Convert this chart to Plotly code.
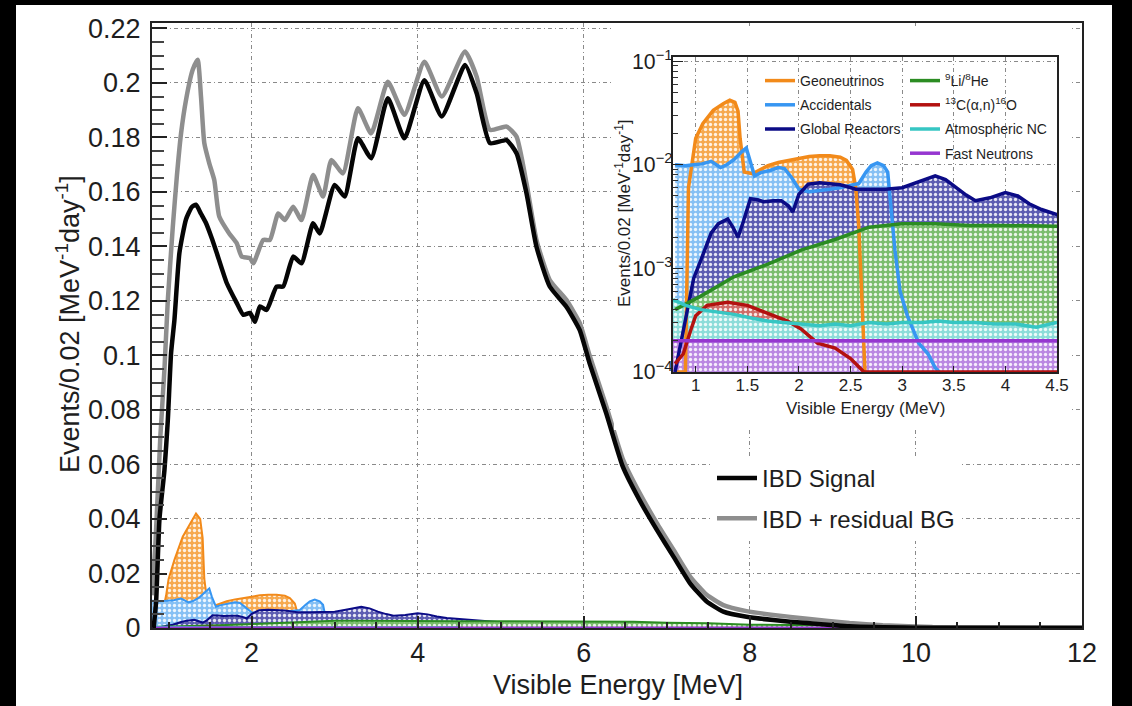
import plotly.graph_objects as go

# ---------------- IBD spectrum (events per 0.02 MeV per day) ----------------
E_SIGNAL = [0.82, 0.85, 0.89, 0.95, 0.99, 1.03, 1.07, 1.13, 1.21, 1.28, 1.33, 1.39,
            1.45, 1.52, 1.58, 1.70, 1.82, 1.90, 1.98, 2.04, 2.10, 2.18, 2.30, 2.38,
            2.50, 2.60, 2.74, 2.82, 3.00, 3.12, 3.28, 3.44, 3.64, 3.84, 4.08, 4.29,
            4.57, 4.71, 4.87, 5.07, 5.19, 5.31, 5.43, 5.59, 5.79, 5.95, 6.07, 6.27,
            6.47, 6.67, 6.88, 7.08, 7.28, 7.48, 7.68, 7.96, 8.28, 8.69, 9.20, 10.0, 12.0]
IBD_SIGNAL = [0.0, 0.010, 0.040, 0.058, 0.076, 0.101, 0.113, 0.1376, 0.150, 0.1545, 0.1553, 0.152,
              0.1486, 0.143, 0.1376, 0.1266, 0.1193, 0.1149, 0.1156, 0.1124, 0.118, 0.1167, 0.1253, 0.1253,
              0.1363, 0.1338, 0.1485, 0.1448, 0.1626, 0.1583, 0.1797, 0.1724, 0.1944, 0.1797, 0.201, 0.1877,
              0.2066, 0.1962, 0.1779, 0.179, 0.1742, 0.1595, 0.1399, 0.1253, 0.1179, 0.1094, 0.0971, 0.0788,
              0.0592, 0.047, 0.036, 0.0262, 0.0164, 0.0097, 0.0060, 0.0041, 0.0029, 0.0018, 0.0006, 0.0001, 0.0]

E_TOTAL = [0.80, 0.84, 0.90, 0.95, 0.99, 1.05, 1.10, 1.15, 1.21, 1.29, 1.35, 1.39, 1.43,
           1.49, 1.55, 1.61, 1.73, 1.82, 1.88, 1.98, 2.02, 2.14, 2.22, 2.32, 2.40, 2.50,
           2.60, 2.74, 2.86, 2.96, 3.10, 3.28, 3.44, 3.64, 3.84, 4.08, 4.29, 4.57, 4.71,
           4.87, 5.07, 5.19, 5.31, 5.43, 5.59, 5.79, 5.95, 6.07, 6.27, 6.47, 6.67, 6.88,
           7.08, 7.28, 7.48, 7.68, 7.96, 8.28, 8.69, 9.20, 9.60, 10.2, 12.0]
IBD_TOTAL = [0.012, 0.030, 0.070, 0.095, 0.120, 0.147, 0.166, 0.1815, 0.1938, 0.2048, 0.2085, 0.195, 0.1779,
             0.1705, 0.1644, 0.151, 0.1448, 0.1412, 0.1363, 0.1357, 0.1338, 0.1424, 0.1424, 0.1521, 0.1497, 0.1546,
             0.1497, 0.1662, 0.1583, 0.1717, 0.1668, 0.1907, 0.1815, 0.2004, 0.1883, 0.2078, 0.195, 0.2115, 0.2023,
             0.1828, 0.184, 0.1803, 0.1632, 0.1424, 0.1277, 0.1204, 0.112, 0.100, 0.0815, 0.062, 0.0497, 0.0385,
             0.0287, 0.0189, 0.0122, 0.0084, 0.0062, 0.0048, 0.0034, 0.0018, 0.0010, 0.0004, 0.0002]

# ---------------- residual backgrounds ----------------
E_GEO = [0.80, 0.90, 0.93, 0.97, 1.00, 1.07, 1.17, 1.27, 1.33, 1.38, 1.41, 1.43, 1.47,
         1.55, 1.62, 1.70, 1.80, 1.90, 2.00, 2.10, 2.20, 2.30, 2.40, 2.46, 2.52, 2.55,
         2.58, 2.61, 2.64]
GEONEUTRINOS = [0.0001, 0.0001, 0.006, 0.012, 0.018, 0.025, 0.0335, 0.039, 0.042, 0.040, 0.033, 0.018, 0.0085,
                0.0082, 0.009, 0.0098, 0.0105, 0.011, 0.0115, 0.012, 0.0122, 0.0122, 0.0118, 0.011, 0.009, 0.006,
                0.0025, 0.0005, 0.0001]

E_ACC = [0.80, 0.90, 0.98, 1.06, 1.15, 1.24, 1.30, 1.37, 1.45, 1.49, 1.52, 1.57, 1.63,
         1.72, 1.80, 1.86, 1.93, 2.00, 2.10, 2.20, 2.30, 2.40, 2.50, 2.58, 2.65, 2.70,
         2.76, 2.82, 2.86, 2.89, 2.93, 2.98, 3.05, 3.16, 3.25, 3.32, 3.36]
ACCIDENTALS = [0.0100, 0.0098, 0.0100, 0.0102, 0.0108, 0.0094, 0.0100, 0.0112, 0.0135, 0.0145, 0.0115, 0.0078, 0.0084,
               0.0088, 0.0094, 0.0092, 0.0075, 0.0058, 0.0055, 0.0056, 0.0058, 0.0060, 0.0063, 0.0066, 0.0085, 0.0098,
               0.0104, 0.0098, 0.0085, 0.0040, 0.0015, 0.0006, 0.00035, 0.00019, 0.00015, 0.00011, 0.0001]

E_REACTOR = [0.80, 0.86, 0.92, 0.98, 1.05, 1.15, 1.22, 1.31, 1.36, 1.41, 1.46, 1.53, 1.60,
             1.66, 1.75, 1.83, 1.90, 1.94, 2.00, 2.09, 2.20, 2.29, 2.40, 2.48, 2.55, 2.70,
             2.84, 3.00, 3.15, 3.32, 3.42, 3.52, 3.62, 3.71, 3.85, 4.00, 4.12, 4.23, 4.35,
             4.50, 4.75, 5.00, 5.25, 5.50, 5.75, 6.00]
GLOBAL_REACTORS = [0.0001, 0.0002, 0.00044, 0.0008, 0.0012, 0.0022, 0.0027, 0.0030, 0.0025, 0.0020, 0.0028, 0.0047, 0.0046,
                   0.0044, 0.0045, 0.0045, 0.0040, 0.0035, 0.0052, 0.0065, 0.0067, 0.0066, 0.0064, 0.0061, 0.0058, 0.0058,
                   0.0058, 0.0060, 0.0068, 0.0078, 0.0072, 0.0060, 0.0051, 0.0045, 0.0048, 0.0054, 0.0050, 0.0042, 0.0037,
                   0.0033, 0.0026, 0.0020, 0.0015, 0.0011, 0.0007, 0.0004]

E_LIHE = [0.80, 1.05, 1.37, 1.70, 2.02, 2.35, 2.68, 3.00, 3.32, 3.65, 3.97, 4.50,
          5.00, 5.50, 6.00, 6.60, 7.00, 7.50, 8.00, 8.50, 9.00, 9.50, 10.0, 10.4]
LI9_HE8 = [0.00040, 0.00054, 0.00083, 0.0011, 0.0015, 0.0019, 0.0025, 0.0027, 0.0027, 0.0026, 0.0026, 0.0025,
           0.0025, 0.0025, 0.0024, 0.0023, 0.0019, 0.0017, 0.0012, 0.0010, 0.0009, 0.0008, 0.0007, 0.0005]

E_CAN = [0.80, 0.88, 0.95, 1.00, 1.11, 1.31, 1.50, 1.69, 1.89, 2.02, 2.18, 2.35, 2.50,
         2.63, 3.00, 3.50, 4.00, 4.50]
C13_ALPHA_N = [0.00012, 0.00015, 0.00025, 0.00035, 0.00044, 0.00047, 0.00044, 0.00037, 0.00031, 0.00026, 0.00019,
               0.00017, 0.000135, 0.0001, 0.0001, 0.0001, 0.0001, 0.0001]

E_ATM = [0.78, 0.90, 1.05, 1.20, 1.37, 1.55, 1.70, 1.85, 2.02, 2.20, 2.35, 2.50, 2.68,
         2.85, 3.00, 3.20, 3.35, 3.50, 3.70, 3.90, 4.10, 4.30, 4.50]
ATMOSPHERIC_NC = [0.00050, 0.00044, 0.00040, 0.00038, 0.00036, 0.00033, 0.00031, 0.00030, 0.00029, 0.00028, 0.00029,
                  0.00028, 0.00030, 0.00029, 0.00030, 0.00030, 0.00031, 0.00030, 0.00030, 0.00029, 0.00029, 0.00027,
                  0.00030]

E_FN = [0.78, 12.0]
FAST_NEUTRONS = [0.0002, 0.0002]

# ---------------- styling ----------------
FONT = "Liberation Sans, Arial, Helvetica, sans-serif"
TXT = "#1e1e1e"
GRID = "#8a8a8a"
LOG_FLOOR = 1e-5  # fill baseline below the inset's lower edge

# (label, energies, values, line colour, fill colour, inset legend)
BACKGROUNDS = [
    ("Geoneutrinos", E_GEO, GEONEUTRINOS, "#f28a1a", "#f6a94f", "legend2"),
    ("Accidentals", E_ACC, ACCIDENTALS, "#3796f2", "#86c0f4", "legend2"),
    ("Global Reactors", E_REACTOR, GLOBAL_REACTORS, "#0b0b86", "#5d5db2", "legend2"),
    ("<sup>9</sup>Li/<sup>8</sup>He", E_LIHE, LI9_HE8, "#2b8c22", "#7bbd6d", "legend3"),
    ("<sup>13</sup>C(α,n)<sup>16</sup>O", E_CAN, C13_ALPHA_N, "#b3110f", "#d06c68", "legend3"),
    ("Atmospheric NC", E_ATM, ATMOSPHERIC_NC, "#36c6c3", "#8cdcd9", "legend3"),
    ("Fast Neutrons", E_FN, FAST_NEUTRONS, "#9636d0", "#ba88e2", "legend3"),
]


def pattern(bg):
    return dict(shape=".", fgcolor="rgba(255,255,255,0.85)", bgcolor=bg,
                size=5, solidity=0.35, fillmode="replace")


fig = go.Figure()

# backgrounds in the main panel (linear scale)
for name, ex, ey, lc, fc, _ in BACKGROUNDS:
    fig.add_trace(go.Scatter(
        x=ex, y=ey, mode="lines", fill="tozeroy", fillcolor=fc,
        fillpattern=pattern(fc), line=dict(color=lc, width=2),
        showlegend=False, hoverinfo="skip", xaxis="x", yaxis="y"))

# IBD spectra
fig.add_trace(go.Scatter(
    x=E_TOTAL, y=IBD_TOTAL, mode="lines", name="IBD + residual BG",
    line=dict(color="#8e8e8e", width=4.5, shape="spline", smoothing=0.5),
    legend="legend", legendrank=2, legendgroup="tot", xaxis="x", yaxis="y"))
fig.add_trace(go.Scatter(
    x=E_SIGNAL, y=IBD_SIGNAL, mode="lines", name="IBD Signal",
    line=dict(color="#050505", width=4.5, shape="spline", smoothing=0.5),
    legend="legend", legendrank=1, legendgroup="sig", xaxis="x", yaxis="y"))

# blank pad that holds the inset (empty panel with a white background)
fig.add_trace(go.Scatter(x=[], y=[], mode="lines", showlegend=False,
                         hoverinfo="skip", xaxis="x2", yaxis="y2"))

# inset: filled areas first, outlines on top
for name, ex, ey, lc, fc, _ in BACKGROUNDS:
    fig.add_trace(go.Scatter(
        x=list(ex) + [ex[-1], ex[0]], y=list(ey) + [LOG_FLOOR, LOG_FLOOR],
        mode="lines", fill="toself", fillcolor=fc, fillpattern=pattern(fc),
        line=dict(width=0), showlegend=False, hoverinfo="skip",
        xaxis="x3", yaxis="y3"))
for i, (name, ex, ey, lc, fc, leg) in enumerate(BACKGROUNDS):
    fig.add_trace(go.Scatter(
        x=ex, y=ey, mode="lines", name=name, line=dict(color=lc, width=3.5),
        legend=leg, legendgroup=f"g{i}", xaxis="x3", yaxis="y3"))

W, H = 1132, 706


def px_x(p):
    return p / W


def px_y(p):
    return 1 - p / H


axis_common = dict(showline=True, linecolor="#222222", linewidth=2, mirror=True,
                   zeroline=False, showgrid=True, gridcolor=GRID, gridwidth=1,
                   griddash="4px,3px,1px,3px", tickcolor="#222222", automargin=False,
                   tickfont=dict(family=FONT, color=TXT))

fig.update_layout(
    width=W, height=H, autosize=False,
    margin=dict(l=0, r=0, t=0, b=0, pad=0),
    paper_bgcolor="black", plot_bgcolor="white",
    font=dict(family=FONT, color=TXT),
    xaxis=dict(axis_common, domain=[px_x(152), px_x(1082)], range=[0.8, 12],
               tick0=2, dtick=2, ticks="inside", ticklen=12, tickwidth=1.5,
               minor=dict(dtick=0.5, ticks="inside", ticklen=6, showgrid=False, tickcolor="#222222"),
               tickfont=dict(family=FONT, color=TXT, size=27), ticklabelstandoff=0,
               anchor="y"),
    yaxis=dict(axis_common, domain=[px_y(628), px_y(23)], range=[0, 0.222],
               tick0=0, dtick=0.02, ticks="inside", ticklen=15, tickwidth=1.5,
               minor=dict(dtick=0.005, ticks="inside", ticklen=12, showgrid=False, tickcolor="#444444"),
               tickfont=dict(family=FONT, color=TXT, size=27), ticklabelstandoff=4,
               anchor="x"),
    xaxis2=dict(domain=[px_x(614), px_x(1072)], range=[0, 1], visible=False, automargin=False,
                showgrid=False, zeroline=False, anchor="y2"),
    yaxis2=dict(domain=[px_y(430), px_y(26)], range=[0, 1], visible=False, automargin=False,
                showgrid=False, zeroline=False, anchor="x2"),
    xaxis3=dict(axis_common, domain=[px_x(673), px_x(1057)], range=[0.78, 4.5],
                tick0=1, dtick=0.5, ticks="inside", ticklen=6,
                tickfont=dict(family=FONT, color=TXT, size=17), ticklabelstandoff=-3,
                anchor="y3"),
    yaxis3=dict(axis_common, domain=[px_y(372), px_y(57)], type="log", range=[-4, -0.96],
                dtick=1, exponentformat="power", showexponent="all", ticks="inside", ticklen=10,
                minor=dict(ticks="inside", ticklen=5, showgrid=False, tickcolor="#333333"),
                tickfont=dict(family=FONT, color=TXT, size=17), ticklabelstandoff=-5,
                anchor="x3"),
    legend=dict(x=px_x(712), y=px_y(456), xanchor="left", yanchor="top",
                bgcolor="white", borderwidth=0, font=dict(family=FONT, size=24, color=TXT),
                tracegroupgap=6, itemwidth=40),
    legend2=dict(x=px_x(760), y=px_y(65), xanchor="left", yanchor="top",
                 bgcolor="rgba(255,255,255,0)", borderwidth=0,
                 font=dict(family=FONT, size=14, color=TXT), tracegroupgap=3, itemwidth=30),
    legend3=dict(x=px_x(905), y=px_y(65), xanchor="left", yanchor="top",
                 bgcolor="rgba(255,255,255,0)", borderwidth=0,
                 font=dict(family=FONT, size=14, color=TXT), tracegroupgap=3, itemwidth=30),
    shapes=[
        # white page inside the dark border
        dict(type="rect", xref="paper", yref="paper", x0=px_x(16), x1=px_x(1112),
             y0=0, y1=px_y(5), fillcolor="white", line=dict(width=0), layer="below"),
    ],
    annotations=[
        dict(text="Visible Energy [MeV]", x=px_x(618), y=px_y(685), xref="paper", yref="paper",
             showarrow=False, xanchor="center", yanchor="middle",
             font=dict(family=FONT, size=27, color=TXT)),
        dict(text="Events/0.02 [MeV<sup>-1</sup>day<sup>-1</sup>]", x=px_x(68), y=px_y(324),
             xref="paper", yref="paper", showarrow=False, textangle=-90,
             xanchor="center", yanchor="middle", font=dict(family=FONT, size=27, color=TXT)),
        dict(text="Visible Energy (MeV)", x=px_x(865), y=px_y(409), xref="paper", yref="paper",
             showarrow=False, xanchor="center", yanchor="middle",
             font=dict(family=FONT, size=17, color=TXT)),
        dict(text="Events/0.02 [MeV<sup>-1</sup>day<sup>-1</sup>]", x=px_x(623), y=px_y(213),
             xref="paper", yref="paper", showarrow=False, textangle=-90,
             xanchor="center", yanchor="middle", font=dict(family=FONT, size=17, color=TXT)),
    ],
)

fig.write_html("out.html")
